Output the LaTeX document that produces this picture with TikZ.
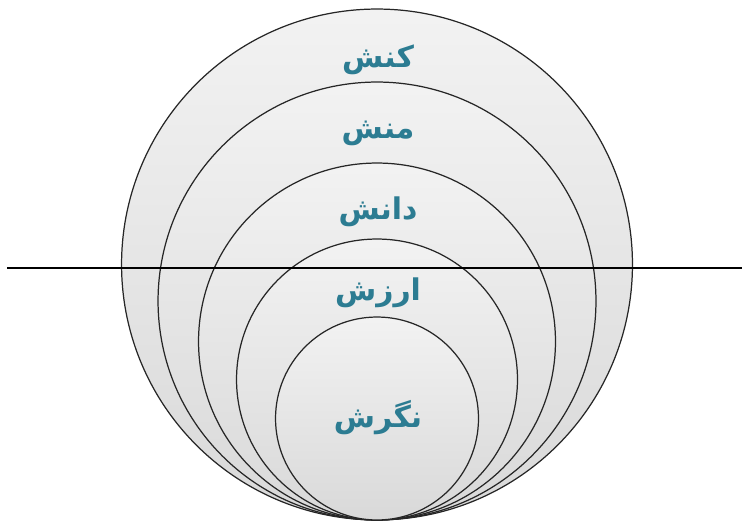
\documentclass[tikz,border=0pt]{standalone}
\usepackage{fontspec}
\newfontfamily\arabicfont[Script=Arabic]{DejaVu Sans}
\TeXXeTstate=1
\usetikzlibrary{positioning}
\definecolor{labelTeal}{RGB}{44, 124, 146}

\begin{document}
\begin{tikzpicture}[x=0.02cm, y=0.02cm,
        ring/.style={circle, draw=black!85, line width=0.7pt, inner sep=0pt, top color=gray!10, bottom color=gray!30},
        lbl/.style={text=labelTeal, font=\arabicfont\bfseries\fontsize{17}{20}\selectfont}]

    \useasboundingbox (0,0) rectangle (742,524);

    % nested circles, all touching at the bottom
    \node[ring, minimum size=10.22cm] (konesh) at (377,259.5) {};
    \node[ring, minimum size=8.76cm] (manesh) at (377,223) {};
    \node[ring, minimum size=7.14cm] (danesh) at (377,182.5) {};
    \node[ring, minimum size=5.62cm] (arzesh) at (377,144.5) {};
    \node[ring, minimum size=4.06cm] (negaresh) at (377,105.5) {};

    % labels
    \node[lbl] (t1) at (378,464) {\beginR کنش\endR};
    \node[lbl] (t2) at (378,391) {\beginR منش\endR};
    \node[lbl] (t3) at (378,312) {\beginR دانش\endR};
    \node[lbl] (t4) at (378,231) {\beginR ارزش\endR};
    \node[lbl] (t5) at (378,106) {\beginR نگرش\endR};

    % horizontal line across
    \coordinate (lineL) at (7,256);
    \coordinate (lineR) at (742,256);
    \draw[line width=0.7pt] (lineL) -- (lineR);
\end{tikzpicture}
\end{document}
